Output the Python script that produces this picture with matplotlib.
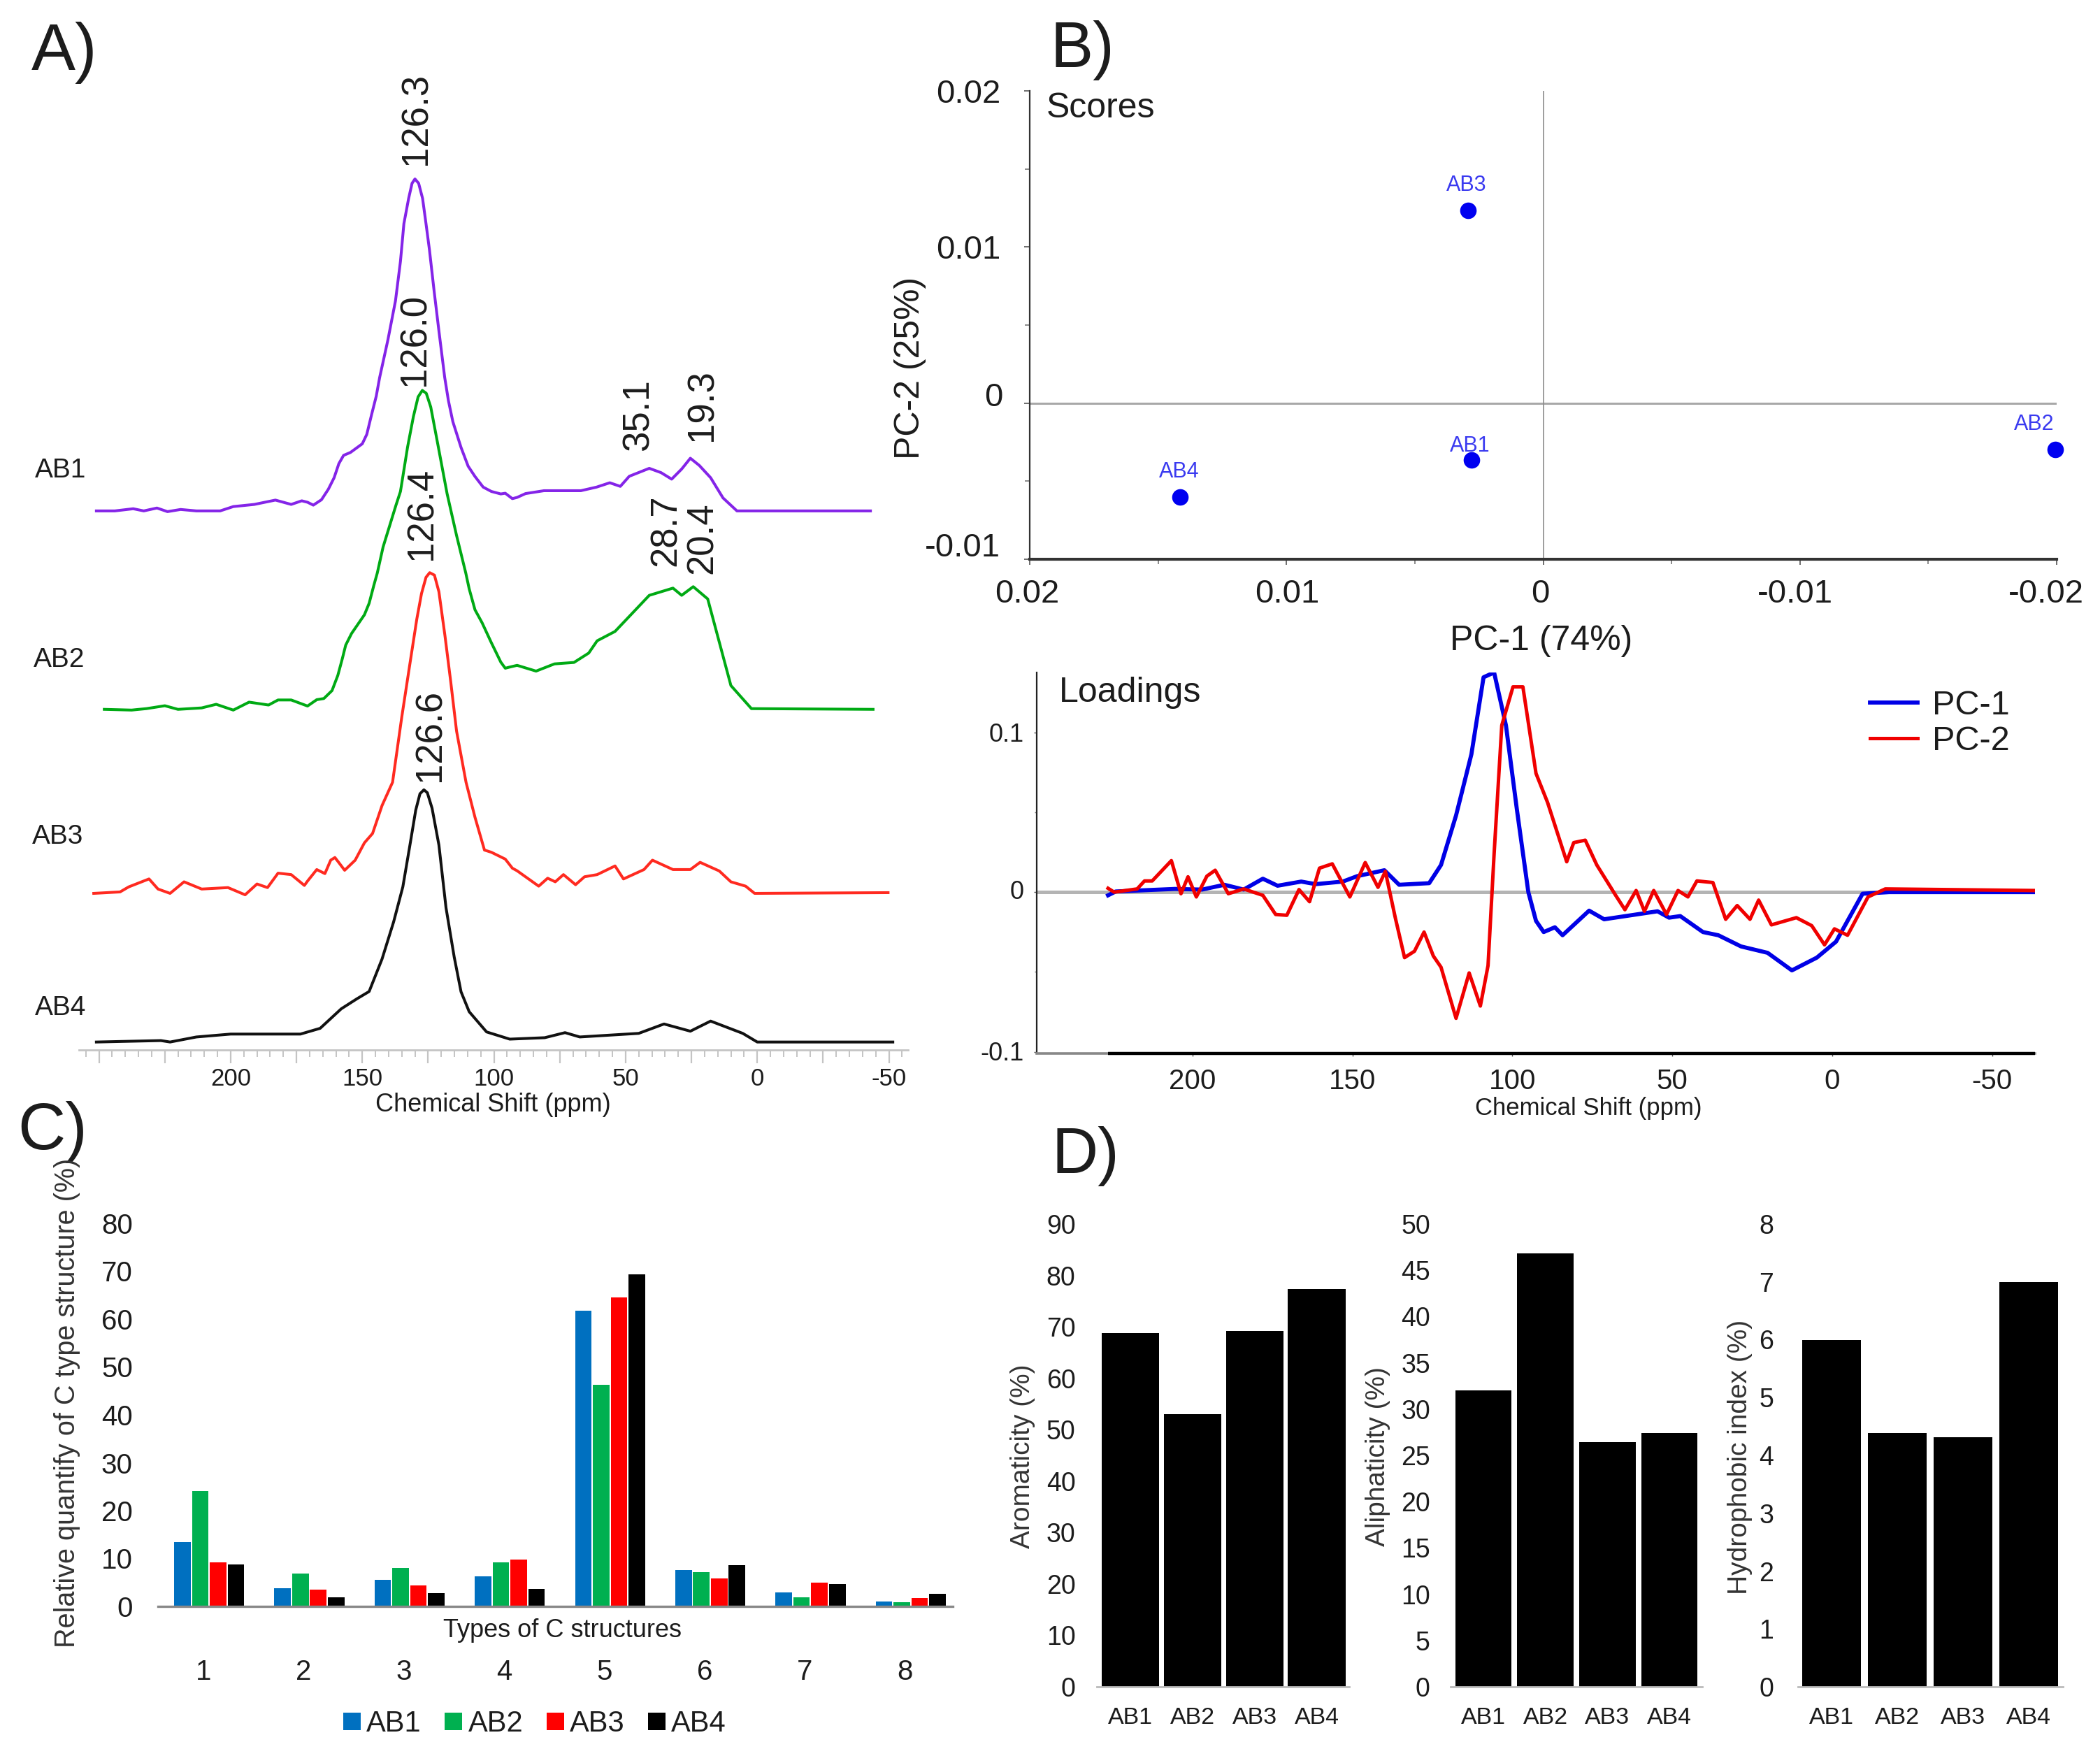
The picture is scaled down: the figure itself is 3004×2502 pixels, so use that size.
import matplotlib
matplotlib.use('Agg')
import matplotlib.pyplot as plt
from matplotlib.transforms import ScaledTranslation
from matplotlib.ticker import MultipleLocator

plt.rcParams['font.family'] = ['Liberation Sans', 'DejaVu Sans']
plt.rcParams['text.color'] = '#1c1c1c'
plt.rcParams['xtick.labelcolor'] = '#1c1c1c'
plt.rcParams['ytick.labelcolor'] = '#1c1c1c'
plt.rcParams['lines.solid_joinstyle'] = 'round'

W, H = 3004, 2502

# --- spectra (ppm, intensity above baseline) ---
ab1_ppm = [251, 244, 237, 233, 228, 224, 219, 213, 204, 199, 191, 183, 177, 173, 170.8, 168.6, 165.5, 162.9, 160.7,
           158.9, 157.1, 154.5, 150, 148.3, 146.5, 144.7, 143.4, 140.3, 137.4, 135.5, 134.2, 132.4, 131.1, 130, 128.6,
           127.1, 125.8, 124.5, 122.7, 120.9, 118.7, 117.3, 115.6, 112.5, 109.8, 107.2, 104.1, 101, 97.4, 95.7, 93,
           91.2, 88, 81, 67, 61, 56, 52, 48.6, 41, 36.5, 32.5, 28.7, 25.4, 22, 17.7, 13, 7.7, -43]
ab1_int = [0, 0, 3, 0, 4, -1, 2, 0, 0, 6, 9, 15, 9, 14, 12, 8, 15.5, 30, 46,
           65.5, 77, 81, 93, 106, 133, 159, 185, 236.5, 291, 346, 398, 433, 454, 460, 454,
           433, 398, 362, 304, 249.5, 185, 153, 123.6, 88, 62, 47.7, 33, 27, 23.5, 24.5, 17,
           18.7, 24, 28, 28, 33, 39, 34, 48, 59, 53, 44, 58, 73, 63, 46, 18, 0, 0]

ab2_ppm = [248, 237.6, 232, 225, 220, 211, 205.5, 199, 193, 185.6, 182, 177, 170.8, 167.3, 164.6, 161.5, 159.3, 157.6,
           156.3, 154.1, 149.2, 147.4, 145.6, 144.3, 142.1, 137.2, 135.5, 132.8, 130.6, 128.8, 127.2, 125.7, 124,
           121.3, 117.8, 114.2, 110.7, 109.4, 107.2, 104.5, 101, 97.4, 95.7, 94, 91.2, 84, 77, 69.6, 64, 60.8, 54,
           47.5, 41, 32, 28.7, 24.3, 18.8, 14.4, 10, 2.2, -44]
ab2_int = [0, -1, 1, 5, 0, 2, 7, -1, 10, 6, 13, 13, 4.6, 13.4, 15, 26, 47, 70,
           89, 105, 131, 147, 172, 189, 225, 283, 302, 363.5, 405.5, 433, 442, 438, 419,
           367, 299, 241, 189, 167, 138, 120, 92.5, 65.5, 57, 58.6, 61, 53, 63, 65, 78, 95, 108,
           133, 158, 168, 158, 170, 153, 93, 33, 1, 0]

ab3_ppm = [252, 242, 238.7, 231, 227.6, 223, 217.7, 211, 201, 194.5, 190, 186, 182, 177, 172, 170.8, 167.3, 164.2, 162,
           160.4, 158.9, 156.7, 152.7, 149.2, 146.1, 142.5, 138.5, 135, 131.9, 129.3, 127.5, 125.8, 124.4, 122.6,
           120.9, 118.6, 116.4, 114.2, 110.6, 107.2, 103.6, 101, 95.7, 93, 91.2, 83, 79.6, 76.7, 73.6, 69,
           65.6, 60.8, 54, 50.8, 43, 39.8, 32, 25.4, 21.7, 14.4, 10, 4.4, 1, -49.7]
ab3_int = [-1, 1, 8, 19, 5, -1, 15, 5, 7, -3, 12, 7, 27, 25, 10, 16, 32, 26.4, 45,
           48.7, 41.6, 31, 45, 69, 82, 120.7, 153, 243.5, 317.5, 379, 414.6, 437, 443.4, 440,
           417, 356, 292, 224, 153, 104.5, 59, 56, 46.5, 33.9, 30.3, 9, 20, 15, 25, 11,
           22, 25, 37, 19, 32, 45, 32, 32, 42, 30, 15, 9, -1, 0]

ab4_ppm = [251, 226.5, 223, 213, 200, 173.5, 166, 158, 152, 147.4, 142.5, 138.1, 134.6, 131.9, 129.7, 128.1, 126.6,
           125.3, 123.5, 120.9, 118.2, 115.1, 112.5, 109.4, 102.8, 94, 80.7, 73, 67.4, 45, 35.4, 25.4, 17.7, 5.5, 0,
           -51.5]
ab4_int = [0, 2, 0, 7, 11, 11, 19, 46, 60, 70, 115, 166.5, 215, 273, 321.4, 344, 349.5,
           345.5, 324, 273, 186, 118, 69.7, 42, 14, 4, 6, 13, 7, 12, 25, 15, 29, 12, 0,
           0]

samples = ['AB1', 'AB2', 'AB3', 'AB4']
spectra_colors = ['#8424e8', '#00aa14', '#ff2a20', '#111111']

# --- PCA scores ---
score_pc1 = [0.00279, -0.01994, 0.00294, 0.01415]
score_pc2 = [-0.00362, -0.00296, 0.01233, -0.00603]

# --- PCA loadings ---
pc1_ppm = [226.4, 224, 205.5, 197, 190, 184, 178, 173.4, 166, 161.5, 153, 148.5, 140, 135.4, 126, 122.3, 117.6, 112.8,
           109, 105.7, 102, 98.6, 95, 92.6, 90.2, 86.7, 84.3, 76, 71.3, 54.6, 51, 47.5, 40.4, 35.6, 28.5, 20.2, 12.6,
           4.8, -1.2, -9.5, -17.8, -29.7, -63]
pc1_val = [-0.002, 0.0004, 0.002, 0.0016, 0.0046, 0.0016, 0.0084, 0.004, 0.0066, 0.005, 0.0066, 0.01, 0.0137, 0.0046,
           0.0056, 0.017, 0.048, 0.0863, 0.1345, 0.1375, 0.1044, 0.052, 0, -0.018, -0.025, -0.022, -0.027, -0.0116,
           -0.017, -0.012, -0.016, -0.015, -0.025, -0.027, -0.034, -0.038, -0.049, -0.041, -0.031, -0.001, 0, 0, 0]

pc2_ppm = [226.4, 224.5, 217.3, 215, 212.6, 206.6, 203.6, 201.4, 198.8, 195.5, 192.9, 188.8, 184, 178, 174, 170.5, 166.7,
           163.4, 160.3, 156.3, 150.8, 146, 142, 139.7, 136.6, 133.7, 130.6, 127.6, 124.7, 122.3, 117.6, 113.5, 110,
           107.6, 105.7, 103.3, 99.8, 96.7, 92.6, 89, 83, 80.8, 77.2, 73.6, 67.7, 64.8, 61.3, 58.7, 55.8, 51.8, 48.2,
           45.1, 42.3, 37.3, 33.3, 29.7, 25.7, 23, 19, 11.2, 6.4, 2.4, -0.7, -4.8, -11.2, -16.6, -63]
pc2_val = [0.0024, 0, 0.002, 0.007, 0.007, 0.0197, -0.001, 0.0096, -0.003, 0.01, 0.0137, -0.001, 0.002, -0.002, -0.014,
           -0.0145, 0.0016, -0.006, 0.015, 0.0177, -0.003, 0.0185, 0.003, 0.013, -0.016, -0.041, -0.037, -0.025, -0.04,
           -0.047, -0.079, -0.0506, -0.0713, -0.046, 0.024, 0.1044, 0.1285, 0.1285, 0.0743, 0.0562, 0.019, 0.031,
           0.0325, 0.017, -0.002, -0.011, 0.001, -0.012, 0.001, -0.014, 0.001, -0.003, 0.007, 0.006, -0.017, -0.0084,
           -0.017, -0.005, -0.0205, -0.016, -0.021, -0.033, -0.023, -0.027, -0.003, 0.002, 0.001]

# --- C structures ---
types_c = ['1', '2', '3', '4', '5', '6', '7', '8']
c_ab1 = [13.4, 3.8, 5.5, 6.3, 61.8, 7.6, 2.9, 1.0]
c_ab2 = [24.1, 6.8, 8.1, 9.2, 46.3, 7.1, 1.9, 0.9]
c_ab3 = [9.2, 3.5, 4.4, 9.8, 64.5, 5.8, 5.0, 1.8]
c_ab4 = [8.8, 1.9, 2.8, 3.6, 69.4, 8.6, 4.6, 2.6]
c_colors = ['#0070c0', '#00b050', '#ff0000', '#000000']

# --- indices ---
aromaticity = [68.8, 53.0, 69.2, 77.4]
aliphaticity = [32.0, 46.8, 26.4, 27.4]
hydrophobic = [6.0, 4.39, 4.31, 7.0]

fig = plt.figure(figsize=(W / 100, H / 100), dpi=100, facecolor='white')


def make_axes(l, t, r, b):
    return fig.add_axes([l / W, 1 - b / H, (r - l) / W, (b - t) / H], facecolor='none')


def ftext(x, y, s, size, **kw):
    kw.setdefault('ha', 'center')
    kw.setdefault('va', 'center')
    return fig.text(x / W, 1 - y / H, s, fontsize=size, **kw)


def shift_labels(labels, dx, dy):
    # moves tick labels by points, the panels were pasted together by hand
    for lbl, a, b in zip(labels, dx, dy):
        lbl.set_transform(lbl.get_transform() + ScaledTranslation(a / 72, b / 72, fig.dpi_scale_trans))


# panel letters
ftext(45, 76, 'A)', 68, ha='left')
ftext(1502, 72, 'B)', 66, ha='left')
ftext(25, 1620, 'C)', 68, ha='left')
ftext(1504, 1654, 'D)', 66, ha='left')

# A) spectra
ax_a = make_axes(113, 0, 1299, 1502)
offsets = [747, 472, 218, 11]
all_ppm = [ab1_ppm, ab2_ppm, ab3_ppm, ab4_ppm]
all_int = [ab1_int, ab2_int, ab3_int, ab4_int]
for ppm, inten, off, col in zip(all_ppm, all_int, offsets, spectra_colors):
    ax_a.plot(ppm, [v + off for v in inten], color=col, lw=2.9)
ax_a.set_xlim(257.6, -57.3)
ax_a.set_ylim(0, 1455)
for s in ['top', 'left', 'right']:
    ax_a.spines[s].set_visible(False)
ax_a.spines['bottom'].set_color('#c4c4c4')
ax_a.spines['bottom'].set_linewidth(2)
ax_a.set_yticks([])
ax_a.xaxis.set_minor_locator(MultipleLocator(5))
ax_a.tick_params(axis='x', which='major', length=14, width=1.6, color='#c4c4c4', pad=4, labelsize=25)
ax_a.tick_params(axis='x', which='minor', length=7, width=1.4, color='#c4c4c4')
ax_a.set_xticks([250, 225, 200, 175, 150, 125, 100, 75, 50, 25, 0, -25, -50])
ax_a.set_xticklabels(['', '', '200', '', '150', '', '100', '', '50', '', '0', '', '-50'])
ftext(705, 1581, 'Chemical Shift (ppm)', 26)

peak_labels = ['126.3', '126.0', '126.4', '126.6', '35.1', '19.3', '28.7', '20.4']
peak_x = [595, 593, 603, 616, 914, 1005, 953, 1005]
peak_y = [170, 486, 735, 1052, 594, 580, 759, 770]
for x, y, s in zip(peak_x, peak_y, peak_labels):
    ftext(x, y, s, 38, rotation=90)
for x, y, s in zip([87, 85, 83, 87], [673, 944, 1197, 1442], samples):
    ftext(x, y, s, 28)

# B) scores
ax_s = make_axes(1473, 130, 2942, 800)
ax_s.axhline(0, color='#a8a8a8', lw=2.2, zorder=1)
ax_s.axvline(0, color='#8c8c8c', lw=1.2, zorder=1)
ax_s.plot(score_pc1, score_pc2, 'o', color='#0000f0', ms=17, mec='none', clip_on=False, zorder=3)
ax_s.set_xlim(0.02, -0.02)
ax_s.set_ylim(-0.01, 0.02)
for s in ['top', 'right']:
    ax_s.spines[s].set_visible(False)
ax_s.spines['left'].set_color('#333333')
ax_s.spines['left'].set_linewidth(1.6)
ax_s.spines['bottom'].set_color('#333333')
ax_s.spines['bottom'].set_linewidth(3)
ax_s.set_xticks([0.02, 0.01, 0, -0.01, -0.02])
ax_s.set_xticklabels(['0.02', '0.01', '0', '-0.01', '-0.02'])
ax_s.set_yticks([0.02, 0.01, 0, -0.01])
ax_s.set_yticklabels(['0.02', '0.01', '0', '-0.01'])
ax_s.xaxis.set_minor_locator(MultipleLocator(0.005))
ax_s.yaxis.set_minor_locator(MultipleLocator(0.005))
ax_s.tick_params(which='major', length=6, width=1.2, color='#555555', labelsize=34)
ax_s.tick_params(which='minor', length=5, width=1.2, color='#777777')
ax_s.tick_params(axis='x', pad=14)
ax_s.tick_params(axis='y', pad=24)
shift_labels(ax_s.get_yticklabels(), [0, 0, 2, 0], [0, 0, 9, 15])
shift_labels(ax_s.get_xticklabels(), [-3, 1, -3, -5, -11], [0, 0, 0, 0, 0])
label_dx = [-2, -22, -1, -1]
label_dy = [14, 26, 26, 26]
for px, py, name, dx, dy in zip(score_pc1, score_pc2, samples, label_dx, label_dy):
    ax_s.annotate(name, (px, py), xytext=(dx, dy), textcoords='offset points', ha='center', va='center',
                  fontsize=22, color='#3a3af0', annotation_clip=False, zorder=4)
ftext(1497, 155, 'Scores', 36, ha='left')
ftext(2205, 917, 'PC-1 (74%)', 36)
ftext(1302, 526, 'PC-2 (25%)', 36, rotation=90)

# B) loadings
ax_l = make_axes(1483, 962, 2911, 1507)
ax_l.axhline(0, color='#b4b4b4', lw=3.6, zorder=1)
ax_l.plot(pc1_ppm, pc1_val, color='#0000e6', lw=4.2, label='PC-1', zorder=2)
ax_l.plot(pc2_ppm, pc2_val, color='#f00000', lw=3.6, label='PC-2', zorder=3)
ax_l.set_xlim(248.7, -63.4)
ax_l.set_ylim(-0.101, 0.1375)
for s in ['top', 'right']:
    ax_l.spines[s].set_visible(False)
ax_l.spines['left'].set_color('#222222')
ax_l.spines['left'].set_linewidth(1.6)
ax_l.spines['bottom'].set_color('#888888')
ax_l.spines['bottom'].set_linewidth(2.6)
# the baseline is only solid black under the spectrum range
ax_l.hlines(-0.101, 226.4, -63.4, color='#000000', lw=3.2, clip_on=False, zorder=5)
ax_l.set_xticks([200, 150, 100, 50, 0, -50])
ax_l.set_xticklabels(['200', '150', '100', '50', '0', '-50'])
ax_l.set_yticks([0.1, 0, -0.1])
ax_l.set_yticklabels(['0.1', '0', '-0.1'])
ax_l.yaxis.set_minor_locator(MultipleLocator(0.05))
ax_l.tick_params(axis='x', length=3, width=1, color='#555555', labelsize=29, pad=12)
ax_l.tick_params(axis='y', length=3, width=1, color='#555555', labelsize=26, pad=10)
ax_l.tick_params(axis='y', which='minor', length=2, width=1, color='#777777')
shift_labels(ax_l.get_yticklabels(), [0, 0, 0], [0, 3, 1])
ftext(1515, 991, 'Loadings', 36, ha='left')
ftext(2272, 1586, 'Chemical Shift (ppm)', 25)
fig.legend(*ax_l.get_legend_handles_labels(), loc='center left', bbox_to_anchor=(2675 / W, 1 - 1035 / H),
           frameon=False, fontsize=35, handlelength=1.4, handletextpad=0.43, labelspacing=0.12, borderpad=0,
           borderaxespad=0)

# C) carbon types
ax_c = make_axes(226, 1750, 1363, 2298)
group_x = list(range(1, len(types_c) + 1))
series_c = [c_ab1, c_ab2, c_ab3, c_ab4]
step = 0.178
for i, (vals, col, name) in enumerate(zip(series_c, c_colors, samples)):
    ax_c.bar([g + (i - 1.5) * step for g in group_x], vals, width=0.165, color=col, label=name)
ax_c.set_xlim(0.49, 8.42)
ax_c.set_ylim(0, 80)
for s in ['top', 'left', 'right']:
    ax_c.spines[s].set_visible(False)
ax_c.spines['bottom'].set_color('#888888')
ax_c.spines['bottom'].set_linewidth(2.4)
ax_c.set_yticks(range(0, 90, 10))
ax_c.set_xticks(group_x)
ax_c.set_xticklabels(types_c)
ax_c.tick_params(length=0, labelsize=29)
ax_c.tick_params(axis='y', pad=26)
ax_c.tick_params(axis='x', pad=54)
shift_labels(ax_c.get_xticklabels(), [-6] * 8, [0] * 8)
ftext(804, 2332, 'Types of C structures', 26)
ftext(96, 2007, 'Relative quantify of C type structure (%)', 28.5, rotation=90, color='#333333')
fig.legend(*ax_c.get_legend_handles_labels(), loc='center left', bbox_to_anchor=(491 / W, 1 - 2466 / H),
           frameon=False, fontsize=30, ncol=4, handlelength=0.6, handleheight=0.55, handletextpad=0.2,
           columnspacing=0.8, borderpad=0, borderaxespad=0)

# D) indices
d_rects = [(1569, 1930), (2075, 2435), (2572, 2951)]
d_xlims = [(-0.54, 3.52), (-0.53, 3.53), (-0.51, 3.52)]
d_vals = [aromaticity, aliphaticity, hydrophobic]
d_tops = [90, 50, 8]
d_steps = [10, 5, 1]
d_pads = [22, 21, 25]
d_widths = [0.93, 0.91, 0.89]
for (l, r), xl, vals, top, st, pad, wd in zip(d_rects, d_xlims, d_vals, d_tops, d_steps, d_pads, d_widths):
    ax_d = make_axes(l, 1751, r, 2413)
    ax_d.bar(range(4), vals, width=wd, color='black')
    ax_d.set_xlim(*xl)
    ax_d.set_ylim(0, top)
    for s in ['top', 'left', 'right']:
        ax_d.spines[s].set_visible(False)
    ax_d.spines['bottom'].set_color('#bbbbbb')
    ax_d.spines['bottom'].set_linewidth(2)
    ax_d.set_yticks(range(0, top + 1, st))
    ax_d.set_xticks(range(4))
    ax_d.set_xticklabels(samples)
    ax_d.tick_params(length=0)
    ax_d.tick_params(axis='y', labelsize=27, pad=pad)
    ax_d.tick_params(axis='x', labelsize=24.5, pad=21)
ftext(1463, 2083, 'Aromaticity (%)', 28, rotation=90, color='#333333')
ftext(1971, 2084, 'Aliphaticity (%)', 28, rotation=90, color='#333333')
ftext(2489, 2084, 'Hydrophobic index (%)', 28, rotation=90, color='#333333')

fig.savefig('out.png', dpi=100, facecolor='white')
